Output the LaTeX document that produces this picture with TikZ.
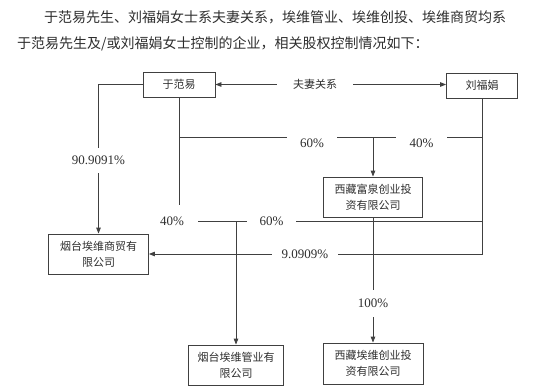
\documentclass[tikz,border=0pt]{standalone}
\usepackage{fontspec}
\setmainfont{Liberation Serif}
\newfontfamily\cjk{Noto Sans CJK SC}
\usetikzlibrary{arrows.meta,calc}
\definecolor{lc}{HTML}{404040}
\definecolor{tc}{HTML}{2E2E2E}
\begin{document}
\begin{tikzpicture}[x=1pt,y=-1pt,
  ln/.style={draw=lc, line width=0.9pt},
  arr/.style={ln, -{Triangle[length=6pt,width=4.6pt]}},
  box/.style={draw=lc, line width=0.9pt, fill=white, text=tc, align=center,
    inner sep=0pt, font=\cjk\fontsize{11}{16}\selectfont},
  gap/.style={inner sep=0pt, text=tc, font=\fontsize{13}{13}\selectfont},
  hang/.style={gap, anchor=north, text height=9pt, text depth=0pt, inner ysep=1pt},
  head/.style={anchor=west, inner sep=0pt, text=tc, font=\cjk\fontsize{14}{14}\selectfont}
]
\fill[white] (0,0) rectangle (550,391);
\useasboundingbox (0,0) rectangle (550,391);

% header
\node[head] (h1) at (44,17) {于范易先生、刘福娟女士系夫妻关系，埃维管业、埃维创投、埃维商贸均系};
\node[head] (h2) at (17,44) {于范易先生及/或刘福娟女士控制的企业，相关股权控制情况如下：};

% boxes
\node[box, minimum width=72pt, minimum height=25pt] (yu) at (179,84.5) {于范易};
\node[box, minimum width=71pt, minimum height=25pt] (liu) at (482,85.5) {刘福娟};
\node[box, minimum width=99pt, minimum height=40pt] (fq) at (373,197) {西藏富泉创业投\\资有限公司};
\node[box, minimum width=100pt, minimum height=40pt] (sm) at (98.5,254) {烟台埃维商贸有\\限公司};
\node[box, minimum width=95pt, minimum height=40pt] (gy) at (236,365) {烟台埃维管业有\\限公司};
\node[box, minimum width=100pt, minimum height=41pt] (cy) at (373,363.5) {西藏埃维创业投\\资有限公司};

% labels (sized to the gaps they leave in the lines)
\node[gap, font=\cjk\fontsize{11}{11}\selectfont, minimum width=76pt] (rel) at (315,84.5) {夫妻关系};
\node[hang, minimum width=50pt] (p60a) at (312,137) {60\%};
\node[hang, minimum width=51pt] (p40a) at (421.5,137) {40\%};
\node[gap, minimum height=25pt] (p909) at (98.5,160.5) {90.9091\%};
\node[gap, minimum width=52pt, minimum height=32pt] (q40) at (172,221) {40\%};
\node[gap, minimum width=49pt] (q60) at (271.5,221) {60\%};
\node[gap, minimum width=66pt] (l9) at (305,254) {9.0909\%};
\node[gap, minimum height=27pt] (l100) at (373,303.5) {100\%};

% spouse relation
\draw[arr] (rel.west) -- (yu.east);
\draw[arr] (rel.east) -- (rel.east -| liu.west);

% Yu -> Shangmao
\draw[ln] (yu.west) -| (p909.north);
\draw[arr] (p909.south) -- (sm.north);

% Yu vertical
\draw[ln] (yu.south) -- (yu.south |- q40.north);

% row 1: 60% / 40% -> Fuquan
\draw[ln] (yu.south |- p60a.north west) -- (p60a.north west);
\draw[ln] (p60a.north east) -- (p40a.north west);
\draw[ln] (p40a.north east) -- (p40a.north east -| liu.south);
\coordinate (j1) at (fq.north |- p60a.north);
\draw[arr] (j1) -- (fq.north);

% Liu vertical and 9.0909% -> Shangmao
\draw[ln] (liu.south) |- (l9.east);
\draw[arr] (l9.west) -- (l9.west -| sm.east);

% row 2: 40% / 60% -> Guanye
\draw[ln] (q40.east) -- (q60.west);
\draw[ln] (q60.east) -- (q60.east -| liu.south);
\coordinate (j2) at (gy.north |- q40.east);
\draw[arr] (j2) -- (gy.north);

% Fuquan -> Chuangye
\draw[ln] (fq.south) -- (l100.north);
\draw[arr] (l100.south) -- (cy.north);
\end{tikzpicture}
\end{document}
